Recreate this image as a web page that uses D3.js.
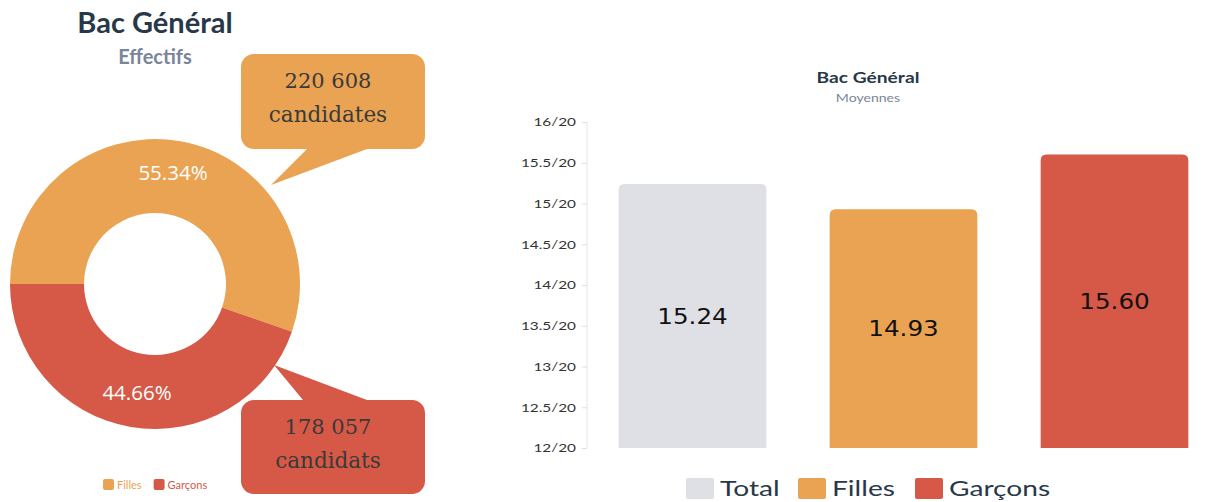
<!DOCTYPE html>
<html><head><meta charset="utf-8">
<script src="https://cdn.jsdelivr.net/npm/d3@7/dist/d3.min.js"></script>
<style>body{margin:0;background:#fff}svg{display:block}</style>
</head><body>
<svg id="c" width="1210" height="502"></svg>
<script>
// ---- data ----
const pieCategories = ["Filles", "Garçons"];
const pieShares = [55.34, 44.66];
const pieCounts = ["220 608", "178 057"];
const pieCountWords = ["candidates", "candidats"];
const barCategories = ["Total", "Filles", "Garçons"];
const barValues = [15.24, 14.93, 15.60];
const yTicks = [12, 12.5, 13, 13.5, 14, 14.5, 15, 15.5, 16];
const yTickLabels = ["12/20","12.5/20","13/20","13.5/20","14/20","14.5/20","15/20","15.5/20","16/20"];

const ORANGE = "#E9A352", RED = "#D65846", GREY = "#DFE0E5";
const pieColors = [ORANGE, RED];
const barColors = [GREY, ORANGE, RED];

const svg = d3.select("#c");

// ---- left: donut ----
const L = svg.append("g");
L.append("text").attr("x",155).attr("y",33).attr("text-anchor","middle")
  .attr("font-family","Lato").attr("font-weight","bold").attr("font-size",29).attr("fill","#283848").text("Bac Général");
L.append("text").attr("x",155).attr("y",64).attr("text-anchor","middle")
  .attr("font-family","Lato").attr("font-weight","bold").attr("font-size",20).attr("fill","#7A8599").text("Effectifs");

const cx = 155, cy = 284, rOut = 145, rIn = 71;
const pie = d3.pie().sort(null).startAngle(-Math.PI/2).endAngle(1.5*Math.PI);
const arcs = pie(pieShares);
const arc = d3.arc().innerRadius(rIn).outerRadius(rOut);
const dg = L.append("g").attr("transform",`translate(${cx},${cy})`);
dg.selectAll("path").data(arcs).join("path").attr("d",arc).attr("fill",(d,i)=>pieColors[i]);

// percentage labels
const labelPos = [[18,-112],[-18,108]];
dg.selectAll("text.pct").data(arcs).join("text").attr("class","pct")
  .attr("x",(d,i)=>labelPos[i][0]).attr("y",(d,i)=>labelPos[i][1]).attr("text-anchor","middle")
  .attr("dominant-baseline","central")
  .attr("font-family","Open Sans").attr("font-size",20.5).attr("fill","#fff")
  .text(d=>d.data.toFixed(2)+"%");

// callouts
const callouts = [
  {x:241,y:54,w:184,h:95, tri:[[307,149],[367,149],[271,185]], c:ORANGE},
  {x:241,y:400,w:184,h:94, tri:[[303,400],[367,400],[274,365]], c:RED}
];
callouts.forEach((co,i)=>{
  L.append("path").attr("d","M"+co.tri.map(p=>p.join(",")).join("L")+"Z").attr("fill",co.c);
  L.append("rect").attr("x",co.x).attr("y",co.y).attr("width",co.w).attr("height",co.h).attr("rx",13).attr("fill",co.c);
  L.append("text").attr("x",co.x+co.w/2-5).attr("y",co.y+27).attr("text-anchor","middle").attr("dominant-baseline","central")
    .attr("font-family","DejaVu Serif").attr("font-size",21).attr("fill","#3a3a3a").text(pieCounts[i]);
  L.append("text").attr("x",co.x+co.w/2-5).attr("y",co.y+60).attr("text-anchor","middle").attr("dominant-baseline","central")
    .attr("font-family","DejaVu Serif").attr("font-size",21.5).attr("fill","#3a3a3a").text(pieCountWords[i]);
});

// left legend
const ll = L.append("g").attr("transform","translate(103,479)");
let lx = 0;
pieCategories.forEach((c,i)=>{
  const g = ll.append("g").attr("transform",`translate(${lx},0)`);
  g.append("rect").attr("width",11).attr("height",11).attr("rx",2).attr("fill",pieColors[i]);
  const t = g.append("text").attr("x",14).attr("y",9.5).attr("font-family","Lato").attr("font-size",11).attr("fill",pieColors[i]).text(c);
  lx += 14 + t.node().getComputedTextLength() + 12;
});

// ---- right: bar chart ----
const R = svg.append("g");
const SX = 1.28;
function stretched(sel, x, y){ return sel.attr("transform",`translate(${x},${y}) scale(${SX},1)`); }

stretched(R.append("text"),868,83).attr("text-anchor","middle").attr("font-family","Lato").attr("font-weight","bold")
  .attr("font-size",15).attr("fill","#283848").text("Bac Général");
stretched(R.append("text"),868,102).attr("text-anchor","middle").attr("font-family","Lato")
  .attr("font-size",11).attr("fill","#7A8599").text("Moyennes");

const y = d3.scaleLinear().domain([12,16]).range([448,122]);
const x = d3.scaleBand().domain(barCategories).range([587,1220]).paddingInner(0.3).paddingOuter(0.15);

// y axis
const ax = R.append("g").attr("transform","translate(587,0)")
  .call(d3.axisLeft(y).tickValues(yTicks).tickFormat((d,i)=>yTickLabels[i]).tickSize(5).tickPadding(6));
ax.select(".domain").attr("stroke","#e6e6e6").attr("d","M0,122V448");
ax.selectAll(".tick line").attr("stroke","#e0e0e0");
ax.selectAll(".tick text").each(function(){
  const t = d3.select(this);
  t.attr("font-family","Lato").attr("font-size",12).attr("fill","#333")
   .attr("transform",`translate(-11,0) scale(${SX},1)`).attr("x",0).attr("dy","0.32em");
});

// bars with rounded tops
const r = 6;
function barPath(x0,w,yt,yb){
  return `M${x0},${yb}V${yt+r}Q${x0},${yt} ${x0+r},${yt}H${x0+w-r}Q${x0+w},${yt} ${x0+w},${yt+r}V${yb}Z`;
}
R.selectAll("path.bar").data(barValues).join("path").attr("class","bar")
  .attr("d",(d,i)=>barPath(x(barCategories[i]),x.bandwidth(),y(d),y(12)))
  .attr("fill",(d,i)=>barColors[i]);
R.selectAll("text.val").data(barValues).join("text").attr("class","val")
  .attr("transform",(d,i)=>`translate(${x(barCategories[i])+x.bandwidth()/2},${(y(d)+y(12))/2}) scale(1.12,1)`)
  .attr("text-anchor","middle").attr("dominant-baseline","central")
  .attr("font-family","DejaVu Sans").attr("font-size",22).attr("fill","#111")
  .text(d=>d.toFixed(2));

// bottom legend
const bl = R.append("g");
const legX = [686, 798, 915];
barCategories.forEach((c,i)=>{
  bl.append("rect").attr("x",legX[i]).attr("y",478).attr("width",28).attr("height",21).attr("rx",2).attr("fill",barColors[i]);
  stretched(bl.append("text"),legX[i]+34,496).attr("font-family","Lato").attr("font-size",22).attr("fill","#283848").text(c);
});
</script>
</body></html>
